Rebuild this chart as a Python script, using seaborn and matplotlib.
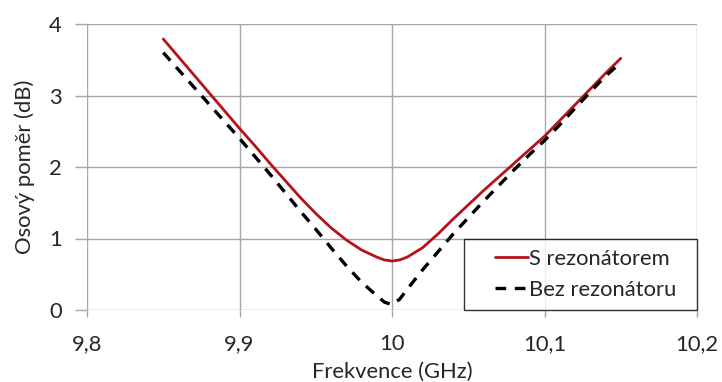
import numpy as np
import pandas as pd
import matplotlib
matplotlib.use("Agg")
import matplotlib.pyplot as plt
from matplotlib.lines import Line2D
from matplotlib.legend_handler import HandlerLine2D
import seaborn as sns

freq = [9.85, 9.86, 9.87, 9.88, 9.89, 9.90, 9.91, 9.92, 9.93, 9.94, 9.95, 9.96,
        9.97, 9.98, 9.99, 9.995, 10.00, 10.005, 10.01, 10.02, 10.03, 10.04, 10.05,
        10.06, 10.07, 10.08, 10.09, 10.10, 10.11, 10.12, 10.13, 10.14, 10.15]
s_rezonatorem = [3.79, 3.54, 3.29, 3.04, 2.79, 2.54, 2.30, 2.05, 1.81, 1.57, 1.35, 1.15,
                 0.98, 0.84, 0.74, 0.70, 0.685, 0.70, 0.74, 0.87, 1.06, 1.27, 1.47,
                 1.67, 1.86, 2.05, 2.24, 2.43, 2.65, 2.87, 3.09, 3.31, 3.52]
bez_rezonatoru = [3.60, 3.36, 3.12, 2.88, 2.64, 2.40, 2.15, 1.90, 1.64, 1.38, 1.13, 0.87,
                  0.62, 0.39, 0.20, 0.11, 0.075, 0.15, 0.29, 0.56, 0.81, 1.06, 1.29,
                  1.52, 1.74, 1.96, 2.17, 2.37, 2.59, 2.82, 3.05, 3.27, 3.46]
series_names = ["S rezonátorem", "Bez rezonátoru"]
x_ticks = [9.8, 9.9, 10.0, 10.1, 10.2]
x_tick_labels = ["9,8", "9,9", "10", "10,1", "10,2"]
y_ticks = [0, 1, 2, 3, 4]
y_tick_labels = ["0", "1", "2", "3", "4"]
x_label = "Frekvence (GHz)"
y_label = "Osový poměr (dB)"

sns.set_style("white")
plt.rcParams["font.family"] = ["Lato", "DejaVu Sans"]
FS = 15.8


class PaddedLineHandler(HandlerLine2D):
    def get_xdata(self, legend, xdescent, ydescent, width, height, fontsize):
        pad = 0.95 * fontsize
        xd = np.array([-xdescent + pad, -xdescent + width])
        return xd, xd


df = pd.DataFrame({
    "f": freq * 2,
    "v": s_rezonatorem + bez_rezonatoru,
    "s": [series_names[0]] * len(freq) + [series_names[1]] * len(freq),
})

fig = plt.figure(figsize=(7.22, 3.82), dpi=100)
ax = fig.add_axes([87 / 722, 1 - 310 / 382, 610 / 722, 286 / 382])

sns.lineplot(data=df[df.s == series_names[0]], x="f", y="v", ax=ax,
             color="#b5121b", linewidth=2.0, label=series_names[0] + "  ")
sns.lineplot(data=df[df.s == series_names[1]], x="f", y="v", ax=ax,
             color="black", linewidth=2.4, linestyle=(0, (3.2, 2.6)),
             label=series_names[1] + "  ")

ax.set_xlim(9.8, 10.2)
ax.set_ylim(0, 4)
ax.set_xticks(x_ticks)
ax.set_xticklabels(x_tick_labels)
ax.set_yticks(y_ticks)
ax.set_yticklabels(y_tick_labels)
ax.grid(True, color="#a6a6a6", linewidth=1.0)
ax.set_axisbelow(True)
for sp in ax.spines.values():
    sp.set_visible(False)
ax.tick_params(axis="y", direction="out", length=9, width=1, color="#a6a6a6",
               labelsize=FS, pad=9, left=True)
ax.tick_params(axis="x", direction="out", length=5, width=1, color="#a6a6a6",
               labelsize=FS, pad=12, bottom=True)
ax.set_xlabel(x_label, fontsize=FS, labelpad=6)
ax.set_ylabel(y_label, fontsize=FS, labelpad=10)

leg = ax.legend(loc="lower right", bbox_to_anchor=(1.0, 0.0), frameon=True,
                fancybox=False, edgecolor="black", fontsize=FS,
                handlelength=2.45, handletextpad=0.05, borderpad=0.45,
                labelspacing=0.5, borderaxespad=0.0,
                handler_map={Line2D: PaddedLineHandler()})
leg.get_frame().set_linewidth(1.0)

fig.savefig("out.png", dpi=100)
